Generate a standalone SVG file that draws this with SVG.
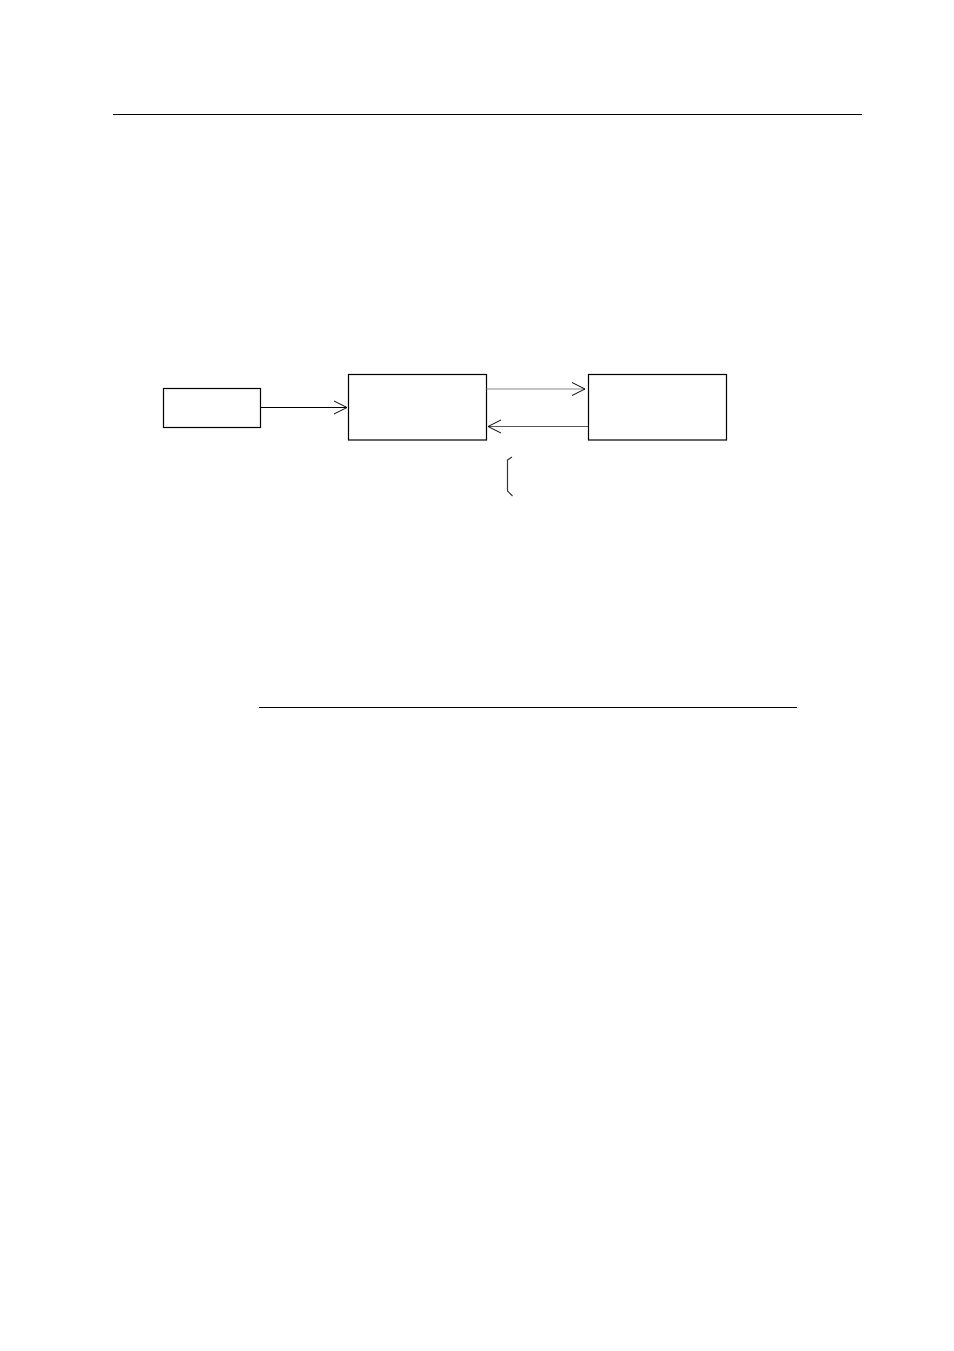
<svg xmlns="http://www.w3.org/2000/svg" width="954" height="1351" viewBox="0 0 954 1351">
<style>
.box{fill:#fff;stroke:#000;stroke-width:1.2}
.rule{stroke:#000;stroke-width:1.2}
.conn{fill:none;stroke-width:1.2}
.head{fill:none;stroke:#000;stroke-width:1}
</style>
<rect width="954" height="1351" fill="#fff"/>
<line class="rule" x1="113" y1="114.5" x2="862" y2="114.5"/>
<line class="rule" x1="259" y1="707.5" x2="797" y2="707.5"/>
<g id="node-a"><rect class="box" x="163.5" y="388.5" width="97" height="39"/></g>
<g id="node-b"><rect class="box" x="348.5" y="374.5" width="138" height="65.5"/></g>
<g id="node-c"><rect class="box" x="588.5" y="374.5" width="138" height="65.5"/></g>
<g id="connectors">
<line class="conn" stroke="#000" x1="260.5" y1="407.5" x2="347" y2="407.5"/>
<polyline class="head" points="334,401 347,407.5 334,414"/>
<line class="conn" stroke="#8a8a8a" stroke-width="1.5" x1="486.5" y1="389" x2="585" y2="389"/>
<polyline class="head" points="572,382.5 585,389 572,395.5"/>
<line class="conn" stroke="#555" x1="588" y1="426.5" x2="488" y2="426.5"/>
<polyline class="head" points="501,420 488,426.5 501,433"/>
<polyline class="conn" stroke="#333" stroke-width="1" points="512,457 507.5,460 507.5,491 512.5,496"/>
</g>
</svg>
